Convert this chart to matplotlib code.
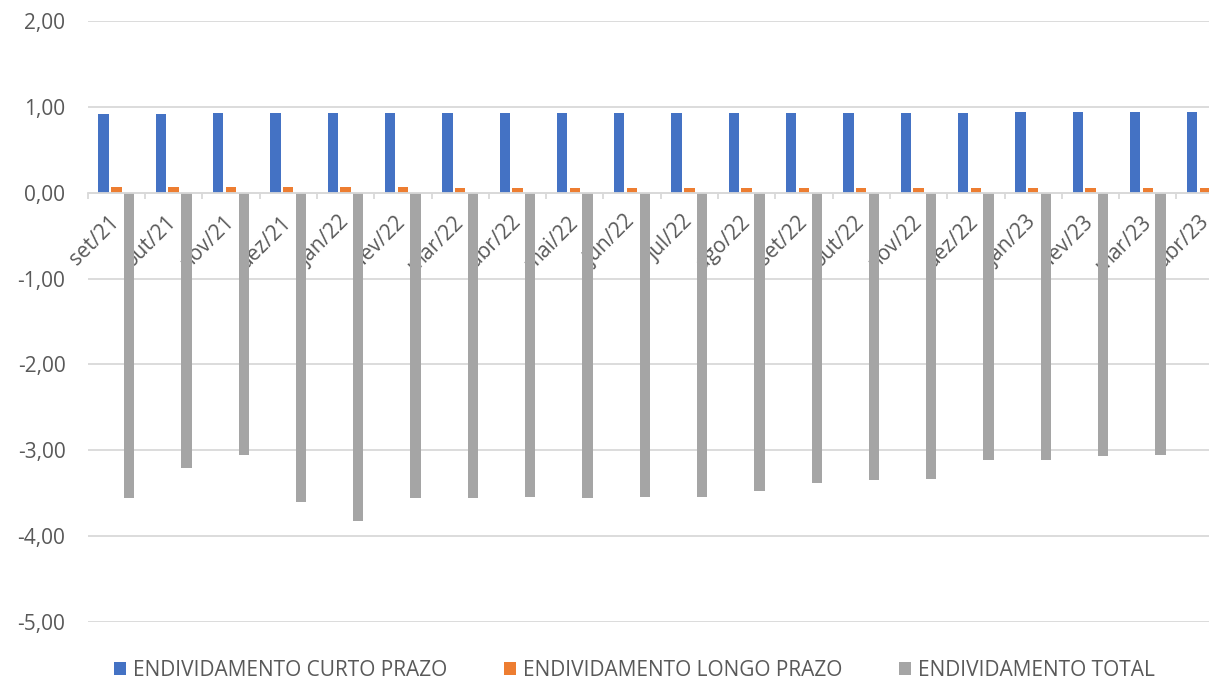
import matplotlib
matplotlib.use("Agg")
import matplotlib.pyplot as plt
from matplotlib.ticker import FuncFormatter, FixedLocator
import numpy as np

categories = ["set/21", "out/21", "nov/21", "dez/21", "jan/22", "fev/22", "mar/22",
              "abr/22", "mai/22", "jun/22", "jul/22", "ago/22", "set/22", "out/22",
              "nov/22", "dez/22", "jan/23", "fev/23", "mar/23", "abr/23"]
curto = [0.92, 0.92, 0.93, 0.93, 0.93, 0.93, 0.93, 0.93, 0.93, 0.93,
         0.93, 0.93, 0.93, 0.93, 0.93, 0.93, 0.94, 0.94, 0.94, 0.94]
longo = [0.07, 0.07, 0.07, 0.07, 0.07, 0.07, 0.06, 0.06, 0.06, 0.06,
         0.06, 0.06, 0.06, 0.06, 0.06, 0.06, 0.06, 0.06, 0.06, 0.06]
total = [-3.56, -3.21, -3.06, -3.60, -3.82, -3.55, -3.56, -3.54, -3.56, -3.54,
         -3.54, -3.47, -3.38, -3.35, -3.34, -3.11, -3.11, -3.07, -3.05, -3.02]
series_names = ["ENDIVIDAMENTO CURTO PRAZO", "ENDIVIDAMENTO LONGO PRAZO", "ENDIVIDAMENTO TOTAL"]
colors = ["#4472C4", "#ED7D31", "#A5A5A5"]

plt.rcParams['font.family'] = ['Open Sans', 'DejaVu Sans']
fig = plt.figure(figsize=(12.09, 6.8), dpi=100)
ax = fig.add_axes([87.7 / 1209, (680 - 622) / 680, 1146 / 1209, 601 / 680])

x = np.arange(len(categories))
w = 0.18
off = 0.222
ax.bar(x - off, curto, w, color=colors[0], label=series_names[0], zorder=3)
ax.bar(x, longo, w, color=colors[1], label=series_names[1], zorder=3)
ax.bar(x + off, total, w, color=colors[2], label=series_names[2], zorder=3)

ax.set_xlim(-0.5, len(categories) - 0.5)
ax.set_ylim(-5, 2)
ax.set_yticks(np.arange(-5, 3, 1))
ax.yaxis.set_major_formatter(FuncFormatter(lambda v, p: f"{v:.2f}".replace(".", ",")))
ax.grid(axis='y', color='#D9D9D9', linewidth=1.3, zorder=0)
ax.tick_params(axis='y', length=0, labelsize=15, labelcolor='#595959', pad=16)

for s in ['top', 'right', 'left']:
    ax.spines[s].set_visible(False)
ax.spines['bottom'].set_position(('data', 0))
ax.spines['bottom'].set_color('#D9D9D9')
ax.spines['bottom'].set_linewidth(1.3)
ax.spines['bottom'].set_zorder(4)

ax.set_xticks(x)
ax.set_xticklabels(categories, rotation=45, ha='right', va='center', rotation_mode='anchor')
ax.xaxis.set_minor_locator(FixedLocator(np.arange(-0.5, len(categories), 1)))
ax.tick_params(axis='x', which='major', length=0, labelsize=15, labelcolor='#595959', pad=19)
ax.tick_params(axis='x', which='minor', length=4, color='#D9D9D9', width=1.3)

leg = fig.legend(loc='center', bbox_to_anchor=(634.5 / 1209, 1 - 670.5 / 680), ncol=3, frameon=False,
                 fontsize=15, handlelength=0.57, handleheight=0.57, handletextpad=0.35,
                 columnspacing=2.7, labelcolor='#595959', borderpad=0, borderaxespad=0)

fig.savefig("out.png", dpi=100)
